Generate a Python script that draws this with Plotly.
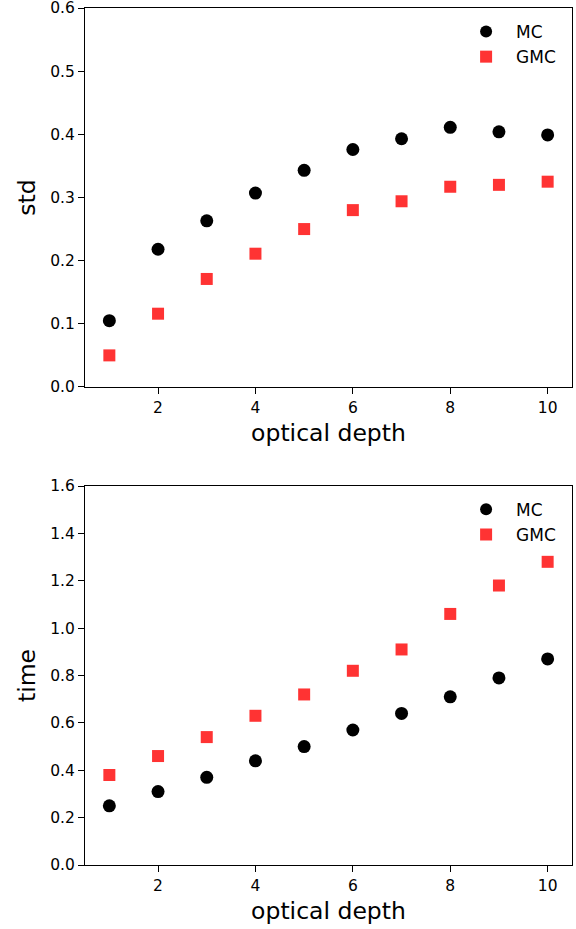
import plotly.graph_objects as go
from plotly.subplots import make_subplots

depth = [1, 2, 3, 4, 5, 6, 7, 8, 9, 10]
std_mc = [0.105, 0.218, 0.263, 0.307, 0.343, 0.376, 0.393, 0.411, 0.404, 0.399]
std_gmc = [0.050, 0.116, 0.171, 0.211, 0.250, 0.280, 0.294, 0.317, 0.320, 0.325]
time_mc = [0.25, 0.31, 0.37, 0.44, 0.50, 0.57, 0.64, 0.71, 0.79, 0.87]
time_gmc = [0.38, 0.46, 0.54, 0.63, 0.72, 0.82, 0.91, 1.06, 1.18, 1.28]

BLACK = "#000000"
RED = "rgba(255,0,0,0.8)"
FONT = "DejaVu Sans"

fig = make_subplots(rows=2, cols=1, vertical_spacing=0.1156)

def add(y, name, color, symbol, size, row, legend):
    fig.add_trace(go.Scatter(x=depth, y=y, mode="markers", name=name,
                             marker=dict(color=color, symbol=symbol, size=size, line=dict(width=0)),
                             legend=legend), row=row, col=1)

add(std_mc, "MC", BLACK, "circle", 13, 1, "legend")
add(std_gmc, "GMC", RED, "square", 12, 1, "legend")
add(time_mc, "MC", BLACK, "circle", 13, 2, "legend2")
add(time_gmc, "GMC", RED, "square", 12, 2, "legend2")

axis_common = dict(showline=True, mirror=True, linecolor="black", linewidth=1.2,
                   ticks="outside", ticklen=6, tickcolor="black", showgrid=False,
                   zeroline=False, automargin=False, ticklabeloverflow="allow",
                   tickfont=dict(size=15.5, color="black", family=FONT))

title_font = dict(size=23.5, color="black", family=FONT)

for r in (1, 2):
    fig.update_xaxes(range=[0.5, 10.5], tickvals=[2, 4, 6, 8, 10],
                     title=dict(text="optical depth", font=title_font, standoff=8),
                     row=r, col=1, **axis_common)

fig.update_yaxes(range=[0, 0.6], tickvals=[0, 0.1, 0.2, 0.3, 0.4, 0.5, 0.6], tickformat=".1f",
                 title=dict(text="std", font=title_font, standoff=7),
                 row=1, col=1, **axis_common)
fig.update_yaxes(range=[0, 1.6], tickvals=[0, 0.2, 0.4, 0.6, 0.8, 1.0, 1.2, 1.4, 1.6], tickformat=".1f",
                 title=dict(text="time", font=title_font, standoff=7),
                 row=2, col=1, **axis_common)

leg = dict(xanchor="left", yanchor="top", bgcolor="rgba(0,0,0,0)",
           font=dict(size=17, family=FONT), itemsizing="constant", itemwidth=50)

fig.update_layout(
    width=576, height=929,
    margin=dict(l=85, r=4, t=8, b=64, autoexpand=False),
    paper_bgcolor="white", plot_bgcolor="white",
    font=dict(family=FONT, color="black"),
    xaxis=dict(domain=[0, 1]), xaxis2=dict(domain=[0, 1]),
    yaxis=dict(domain=[0.5578, 1.0]), yaxis2=dict(domain=[0.0, 0.4422]),
    legend=dict(x=0.762, y=0.993, **leg),
    legend2=dict(x=0.762, y=0.4355, **leg),
)

fig.write_html("out.html")
